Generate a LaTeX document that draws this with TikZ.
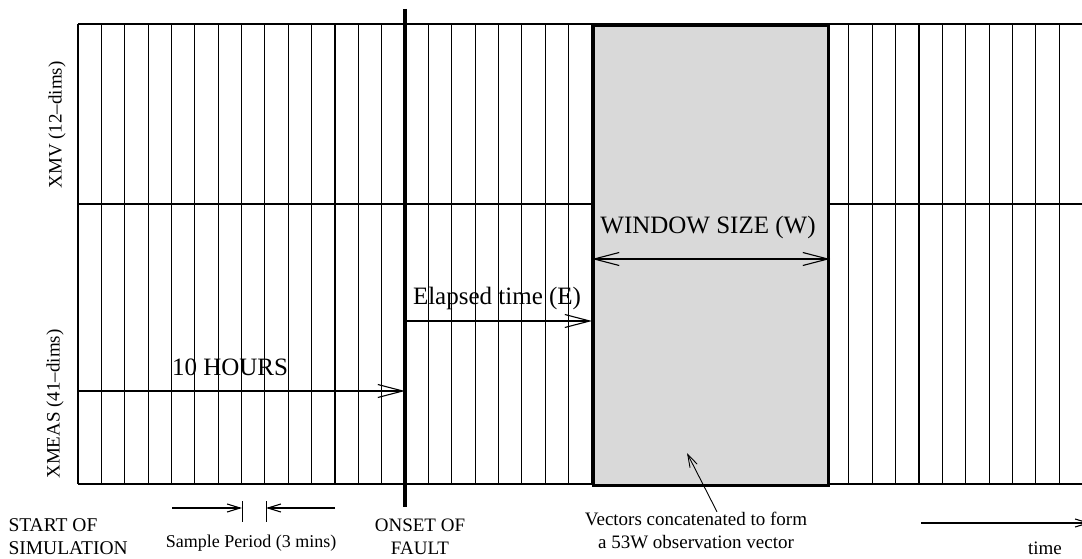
\documentclass[tikz,border=0pt]{standalone}
\usepackage{fontspec}
\setmainfont{Liberation Serif}
\usetikzlibrary{arrows.meta}

\begin{document}
\begin{tikzpicture}[x=1pt,y=-1pt,line width=1.1pt,
  >={Straight Barb[length=25pt,width=13pt]},
  tiny/.style={-{Straight Barb[length=13pt,width=8pt]}},
  big/.style={font=\fontsize{25}{27}\selectfont},
  lbl/.style={font=\fontsize{19}{23}\selectfont,align=center}]
\useasboundingbox (0,0) rectangle (1082,559);
% sample grid
\foreach \i in {0,...,42} \draw (78+23.36*\i,24) -- (78+23.36*\i,484);
\foreach \y in {24,204,484} \draw (78,\y) -- (1082,\y);
% window and fault
\node[draw,line width=3pt,fill=black!15,minimum width=235pt,minimum height=460pt,inner sep=0pt,anchor=north west] (win) at (592,24) {};
\draw[line width=3.5pt] (405,9) coordinate (ftop) -- (405,507) coordinate (fbot);
\node[lbl,rotate=90] (xmv) at (57,125) {XMV (12--dims)};
\node[lbl,rotate=90] (xmeas) at (55,404) {XMEAS (41--dims)};
\node[big] (hours) at (230,367) {10 HOURS};
\node[big] (elapsed) at (497,298) {Elapsed time (E)};
\node[big] (wsize) at (708,227) {WINDOW SIZE (W)};
\coordinate (h0) at (78,391);
\coordinate (e0) at (405,321);
\coordinate (w0) at (592,259);
\draw[->] (h0) -- (h0 -| ftop);
\draw[->] (e0) -- (e0 -| win.west);
\draw[<->] (w0) -- (w0 -| win.east);
% bottom labels
\node[lbl,font=\fontsize{19.5}{23}\selectfont,align=left,anchor=west,inner sep=0pt] (start) at (8,537) {START OF\\SIMULATION};
\node[lbl] (onset) at (420,537) {ONSET OF\\FAULT};
\node[lbl,font=\fontsize{18}{22}\selectfont] (sample) at (251,543) {Sample Period (3 mins)};
\node[lbl] (vec) at (696,530) {Vectors concatenated to form\\a 53W observation vector};
\node[lbl] (time) at (1045,548) {time};
\coordinate (s1) at (242,508);
\coordinate (s2) at (266,508);
\draw[line width=0.8pt] (242,501) -- (242,522) (266,501) -- (266,522);
\draw[tiny] (172,508) -- (s1);
\draw[tiny] (335,508) -- (s2);
\coordinate (vtip) at (687,453);
\draw[tiny,line width=0.9pt] ([xshift=21pt,yshift=-4pt]vec.north) -- (vtip);
\coordinate (t0) at (921,523);
\draw[tiny] (t0) -- (1090,523);
\end{tikzpicture}
\end{document}
